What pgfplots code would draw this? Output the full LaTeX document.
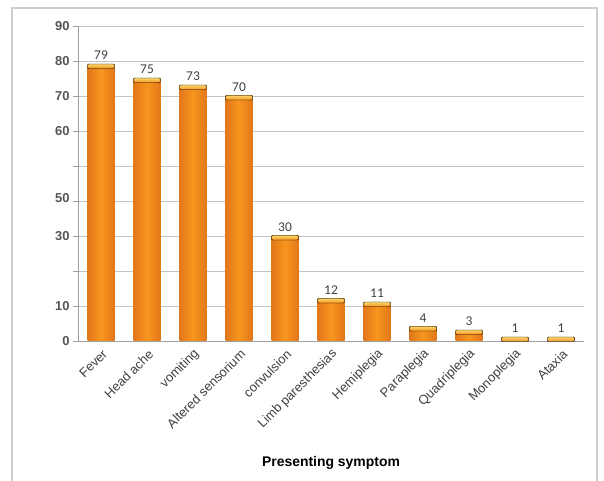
\documentclass[border=0pt]{standalone}
\usepackage{pgfplots}
\pgfplotsset{compat=1.18}
\usepackage{fontspec}
\setmainfont{Liberation Sans}
\newfontfamily\valfont{Carlito}

\definecolor{barmid}{HTML}{F7961E}
\definecolor{baredge}{HTML}{E2771A}
\definecolor{barcap}{HTML}{FBD46A}
\definecolor{gridgray}{HTML}{C4C4C4}
\definecolor{axisgray}{HTML}{A0A0A0}
\definecolor{txt}{HTML}{404040}
\definecolor{ticktxt}{HTML}{555555}
\definecolor{framegray}{HTML}{CFCFCF}

% light rim drawn on top of each bar
\pgfdeclareplotmark{barcap}{%
  \shade[top color=barcap, bottom color=barmid, rounded corners=1bp]
    (-13.5bp,-4bp) rectangle (13.5bp,0.5bp);}

\pgfplotsset{
  symbar/.style={ybar, bar width=27bp, draw=none,
    left color=baredge, right color=baredge, middle color=barmid,
    nodes near coords,
    nodes near coords style={font=\valfont\fontsize{13.5}{13.5}\selectfont,
      text=txt, anchor=south, yshift=1bp}},
}

\begin{document}
\begin{tikzpicture}[x=1bp,y=1bp]
\path[use as bounding box] (0,0) rectangle (604,481);
\draw[framegray, line width=1.2bp] (12,-2) -- (12,473) -- (597,473) -- (597,-2);
\begin{axis}[
  at={(78bp,140bp)}, anchor=south west,
  scale only axis, width=506bp, height=315bp,
  xmin=-0.5, xmax=10.5, ymin=0, ymax=90,
  axis lines*=left,
  axis line style={axisgray, line width=0.8bp},
  xtick={0,...,10},
  xticklabels={Fever, Head ache, vomiting, Altered sensorium, convulsion,
    Limb paresthesias, Hemiplegia, Paraplegia, Quadriplegia, Monoplegia, Ataxia},
  x tick style={draw=none},
  xticklabel style={rotate=45, anchor=east, text=txt, xshift=2bp, yshift=-7bp,
    font=\fontsize{13}{13}\selectfont},
  ytick={0,10,...,90},
  yticklabels={0,10,{},30,\raisebox{6bp}{50},{},60,70,80,90},
  y tick style={axisgray, line width=0.8bp},
  tick align=outside, major tick length=5bp,
  yticklabel style={text=ticktxt, font=\bfseries\fontsize{13}{13}\selectfont},
  /pgf/number format/assume math mode=true,
  ymajorgrids, grid style={gridgray, line width=0.8bp},
  xlabel={\textbf{Presenting symptom}},
  xlabel style={at={(axis description cs:0.5,0)}, anchor=center,
    yshift=-122bp, font=\fontsize{14}{14}\selectfont, text=black},
]
% one plot per bar so that each bar carries its own shading
\addplot[symbar] coordinates {(0,79)};
\addplot[symbar] coordinates {(1,75)};
\addplot[symbar] coordinates {(2,73)};
\addplot[symbar] coordinates {(3,70)};
\addplot[symbar] coordinates {(4,30)};
\addplot[symbar] coordinates {(5,12)};
\addplot[symbar] coordinates {(6,11)};
\addplot[symbar] coordinates {(7,4)};
\addplot[symbar] coordinates {(8,3)};
\addplot[symbar] coordinates {(9,1)};
\addplot[symbar] coordinates {(10,1)};
\addplot[only marks, mark=barcap]
  coordinates {(0,79) (1,75) (2,73) (3,70) (4,30) (5,12) (6,11) (7,4) (8,3) (9,1) (10,1)};
\end{axis}
\end{tikzpicture}
\end{document}
